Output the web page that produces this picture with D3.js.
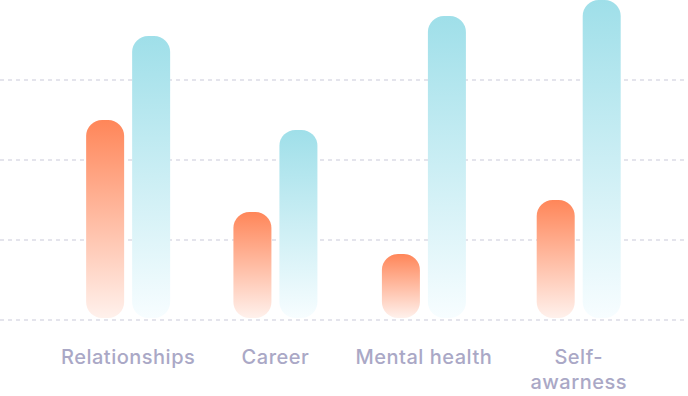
<!DOCTYPE html>
<html>
<head>
<meta charset="utf-8">
<script src="https://cdn.jsdelivr.net/npm/d3@7"></script>
<style>
  html, body { margin: 0; padding: 0; background: #fff; }
  svg { display: block; }
  .label { font-family: "Inter", sans-serif; font-size: 20px; font-weight: 500; letter-spacing: 0.5px; fill: #aaa8c6; }
</style>
</head>
<body>
<div id="chart"></div>
<script>
// categories and series values (percent of top of chart)
const categories = ["Relationships", "Career", "Mental health", "Self-\nawarness"];
const seriesKeys = ["before", "after"];
const beforeValues = [62.5, 33.75, 20.6, 37.5];
const afterValues = [88.75, 59.4, 95, 100];
const gridTicks = [0, 25, 50, 75];

const width = 688, height = 396;
const left = 61, right = 627;   // span the labels sit in
const groupWidth = 84;

const svg = d3.select("#chart").append("svg")
  .attr("width", width)
  .attr("height", height);

const defs = svg.append("defs");
const grads = {
  before: ["#ff8659", "#fff1ec"],
  after: ["#9fdfe9", "#f7fdff"]
};
Object.entries(grads).forEach(([k, c]) => {
  const g = defs.append("linearGradient")
    .attr("id", "grad-" + k)
    .attr("x1", 0).attr("y1", 0).attr("x2", 0).attr("y2", 1);
  g.append("stop").attr("offset", "0%").attr("stop-color", c[0]);
  g.append("stop").attr("offset", "100%").attr("stop-color", c[1]);
});

const y = d3.scaleLinear().domain([0, 100]).range([320, 0]);
const base = y(0) - 2;

// dashed grid
svg.append("g").selectAll("line")
  .data(gridTicks)
  .join("line")
    .attr("x1", 0).attr("x2", 686)
    .attr("y1", d => y(d)).attr("y2", d => y(d))
    .attr("stroke", "#e4e4ec")
    .attr("stroke-width", 2)
    .attr("stroke-dasharray", "4 4");

// labels first so we can measure them, then lay out columns like flex space-between
const labelG = svg.append("g");
const labels = labelG.selectAll("text")
  .data(categories)
  .join("text")
    .attr("class", "label")
    .attr("text-anchor", "middle")
    .attr("y", 364);
labels.each(function(d) {
  const lines = d.split("\n");
  d3.select(this).selectAll("tspan")
    .data(lines)
    .join("tspan")
      .attr("x", 0)
      .attr("dy", (l, i) => i === 0 ? 0 : 25)
      .text(l => l);
});

const colW = [];
labels.each(function() { colW.push(Math.max(this.getBBox().width, groupWidth)); });
const gap = (right - left - d3.sum(colW)) / (categories.length - 1);
const centers = [];
let cx = left;
colW.forEach(w => { centers.push(cx + w / 2); cx += w + gap; });

const x = d3.scaleOrdinal().domain(categories).range(centers);
const xInner = d3.scaleBand().domain(seriesKeys).range([0, groupWidth]).paddingInner(8 / 46);

labels.attr("transform", d => `translate(${x(d)},0)`);

const rows = categories.map((c, i) => ({ cat: c, before: beforeValues[i], after: afterValues[i] }));

const groups = svg.append("g").selectAll("g")
  .data(rows)
  .join("g")
    .attr("transform", d => `translate(${x(d.cat) - groupWidth / 2},0)`);

groups.selectAll("rect")
  .data(d => seriesKeys.map(k => ({ key: k, value: d[k] })))
  .join("rect")
    .attr("x", d => xInner(d.key))
    .attr("y", d => y(d.value))
    .attr("width", xInner.bandwidth())
    .attr("height", d => base - y(d.value))
    .attr("rx", 16)
    .attr("fill", d => `url(#grad-${d.key})`);
</script>
</body>
</html>
